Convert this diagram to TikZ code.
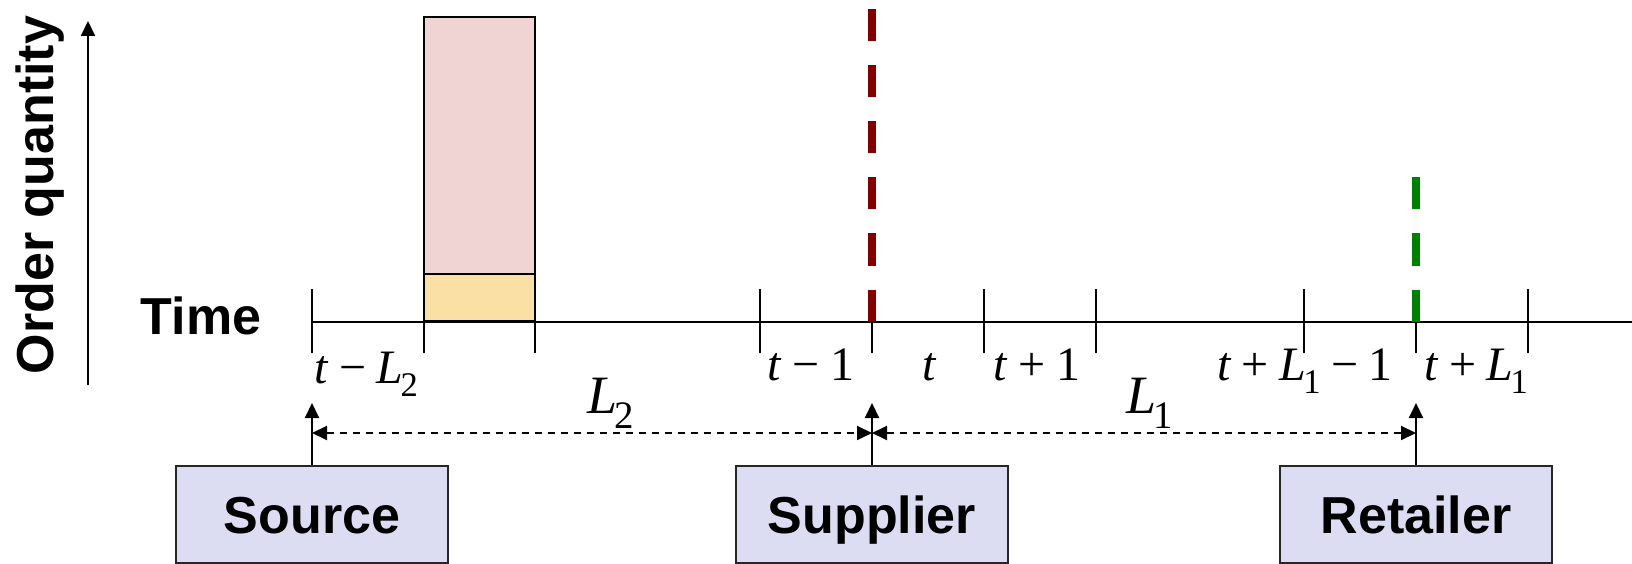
\documentclass[tikz,border=0pt]{standalone}
\usepackage{fontspec}
\setmainfont{Liberation Sans}
\newfontfamily\serifit{Liberation Serif}
\usepackage{graphicx}
\usepackage{tikz}
\usetikzlibrary{arrows.meta, positioning}
\definecolor{darkred}{RGB}{128,0,0}
\definecolor{darkgreen}{RGB}{0,128,0}
\definecolor{barpink}{RGB}{240,212,212}
\definecolor{baryellow}{RGB}{250,224,165}
\definecolor{boxlilac}{RGB}{220,220,242}
\newcommand{\sym}[1]{\textit{#1}}
\newcommand{\bop}[1]{\hspace{0.22em}#1\hspace{0.22em}}
\newcommand{\Lsub}[1]{\textit{L}\kern-0.06em\raisebox{-0.28em}{\scalebox{0.72}{#1}}}

\begin{document}
\begin{tikzpicture}[x=0.5pt, y=0.5pt,
  tk/.style={line width=1pt},
  period/.style={font=\serifit\fontsize{24pt}{24pt}\selectfont, anchor=base, inner sep=0pt},
  lag/.style={font=\serifit\fontsize{27pt}{27pt}\selectfont, anchor=base, inner sep=0pt},
  agent/.style={draw=black!85, line width=1pt, fill=boxlilac, minimum width=136pt,
                minimum height=48.5pt, inner sep=0pt, text height=18.7pt, text depth=0pt,
                font=\bfseries\fontsize{26pt}{26pt}\selectfont},
  feed/.style={-{Triangle[length=7.5pt, width=7pt]}, line width=1pt},
  lead/.style={{Triangle[length=7.5pt, width=7pt]}-{Triangle[length=7.5pt, width=7pt]},
               line width=1pt, dash pattern=on 3.5pt off 3pt},
  orderline/.style={line width=4pt, dash pattern=on 16pt off 12pt}
]
\useasboundingbox (0,0) rectangle (1632,563);

% axes
\coordinate (origin) at (312,241.5);
\coordinate (axisend) at (1632,241.5);
\draw[tk] (origin) -- (axisend);
\coordinate (qbot) at (88,178);
\coordinate (qtop) at (88,542);
\draw[feed] (qbot) -- (qtop);
\node[rotate=90, font=\bfseries\fontsize{26pt}{26pt}\selectfont] (qty) at (40,368) {Order quantity};
\node[font=\bfseries\fontsize{26pt}{26pt}\selectfont] (time) at (201,247) {Time};

% period ticks
\foreach \x in {312,760,984,1096,1304,1528}
  \draw[tk] (\x,274) -- (\x,210);
\foreach \x in {424,535,872,1416}
  \draw[tk] (\x,241.5) -- (\x,210);

% order placed at t-L2
\draw[line width=1.25pt, fill=baryellow] (424,241.5) rectangle (535,289);
\draw[line width=1.25pt, fill=barpink] (424,289) rectangle (535,546);

\draw[orderline, darkred] (872,241.5) -- (872,553.5);
\draw[orderline, darkgreen] (1416,241.5) -- (1416,385.5);

\node[period, anchor=base west] (p0) at (314,180) {\sym{t}\bop{−}\Lsub{2}};
\node[period] (p1) at (811,183) {\sym{t}\bop{−}1};
\node[period] (p2) at (930,183) {\sym{t}};
\node[period] (p3) at (1037,183) {\sym{t}\bop{+}1};
\node[period] (p4) at (1305,183) {\sym{t}\bop{+}\Lsub{1}\bop{−}1};
\node[period] (p5) at (1476,183) {\sym{t}\bop{+}\Lsub{1}};

% stages
\coordinate (srcup) at (312,160);
\coordinate (supup) at (872,160);
\coordinate (retup) at (1416,160);
\node[agent, below=31pt of srcup] (source) {Source};
\node[agent, below=31pt of supup] (supplier) {Supplier};
\node[agent, below=31pt of retup] (retailer) {Retailer};
\draw[feed] (source) -- (srcup);
\draw[feed] (supplier) -- (supup);
\draw[feed] (retailer) -- (retup);

% lead times
\coordinate (srclag) at (312,130);
\coordinate (suplag) at (872,130);
\coordinate (retlag) at (1416,130);
\draw[lead] (srclag) -- (suplag);
\draw[lead] (suplag) -- (retlag);
\node[lag] (l2) at (611,150) {\Lsub{2}};
\node[lag] (l1) at (1150,150) {\Lsub{1}};
\end{tikzpicture}
\end{document}
